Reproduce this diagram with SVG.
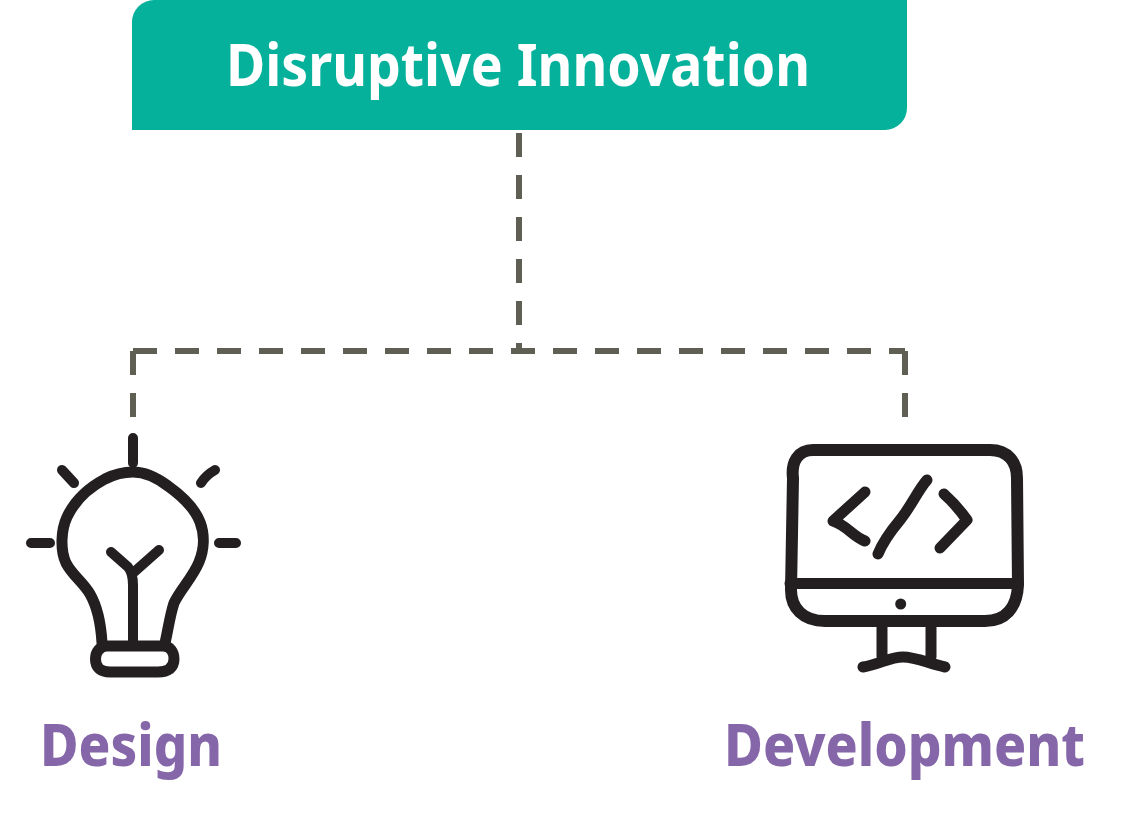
<svg xmlns="http://www.w3.org/2000/svg" width="1125" height="820" viewBox="0 0 1125 820">
<style>
.ink{fill:none;stroke:#231f20;stroke-width:11;stroke-linecap:round;stroke-linejoin:round}
.conn{fill:none;stroke:#5f5f53;stroke-width:6;stroke-dasharray:24 18}
.lbl{font-family:"Noto Sans","Open Sans",sans-serif;font-weight:800;fill:#8566a8;font-size:58px}
</style>
<rect width="1125" height="820" fill="#fff"/>
<g id="connectors">
<path class="conn" d="M519 133V351"/>
<path class="conn" d="M133 351V417"/>
<path class="conn" d="M133 351H905"/>
<path class="conn" d="M905 351V417"/>
</g>
<g id="root">
<path d="M154 0H907V108A22 22 0 0 1 885 130H132V22A22 22 0 0 1 154 0Z" fill="#06b19c"/>
<text x="226" y="86" textLength="584" lengthAdjust="spacingAndGlyphs" font-family="Noto Sans, sans-serif" font-weight="700" font-size="60" fill="#fff">Disruptive Innovation</text>
</g>
<g id="design">
<path class="ink" d="M102 643C101 625 98 608 90 594C83 582 72 575 66 563C60 550 61 530 67 517C75 500 90 487 105 479C115 474 124 472 133 472C145 472 156 477 168 486C182 496 195 509 200 522C205 535 204 550 199 562C193 577 180 590 174 603C170 615 168 630 165 643"/>
<path class="ink" d="M107 646H163C170 646 174 652 174 659C174 668 168 672 158 672H110C101 672 95.500 668 95.500 659C95.500 652 100 646 107 646Z"/>
<path class="ink" style="stroke-width:10" d="M133 438V463M62 470L74 483M215 470C208 474 204 478 201 483M31 543H50M219 543H236M111 552L128 567C132 572 133 577 133 585V643M133 573L159 550"/>
<text class="lbl" x="40" y="766" textLength="182" lengthAdjust="spacingAndGlyphs">Design</text>
</g>
<g id="development">
<path class="ink" style="stroke-width:12" d="M813 450H990C1008 450 1017 462 1017 478L1018 585C1017 608 1005 621 985 621H825C803 621 791 608 791 590L793 478C791 462 798 450 813 450Z"/>
<path class="ink" d="M790 583.500H1018M882 627V657M931 627V657M863 667C880 664 890 657 903 657C916 657 930 664 945 667M865 492L833 521C848 526 852 536 865 541M927 480C918 490 912 505 900 520C890 532 882 544 878 554M944 494C953 502 960 510 967 520L940 548"/>
<circle cx="900.700" cy="604" r="5.500" fill="#231f20"/>
<text class="lbl" x="724" y="766" textLength="361" lengthAdjust="spacingAndGlyphs">Development</text>
</g>
</svg>
